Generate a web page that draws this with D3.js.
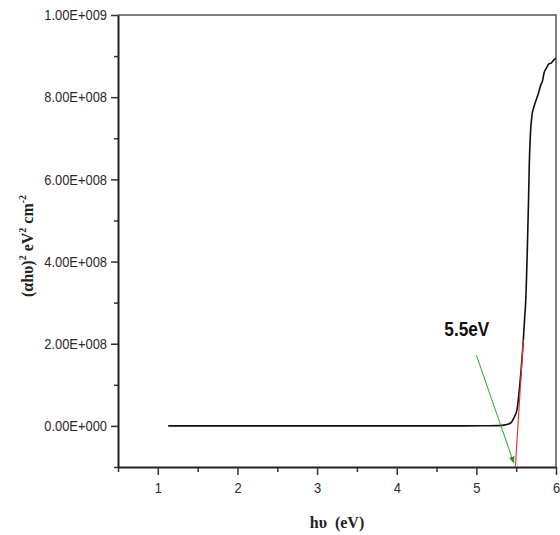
<!DOCTYPE html>
<html lang="en">
<head>
<meta charset="UTF-8">
<title>Tauc plot</title>
<script src="https://d3js.org/d3.v7.min.js"></script>
<style>
  body { margin: 0; background: #fff; }
  #viz svg { display: block; }
</style>
</head>
<body>
<div id="viz"></div>
<script>
// measured curve (hv in eV, (ahv)^2 in eV^2 cm^-2)
var hv   = [1.13, 2, 3, 4, 4.8, 5.1, 5.28, 5.36, 5.43, 5.47, 5.51, 5.535, 5.565, 5.59, 5.607, 5.62, 5.64, 5.655, 5.665, 5.68, 5.7, 5.72, 5.745, 5.775, 5.81, 5.83, 5.85, 5.88, 5.91, 5.94, 5.965, 5.99, 6.0];
var ahv2 = [0, 0, 0, 0, 0.001e8, 0.003e8, 0.008e8, 0.025e8, 0.07e8, 0.19e8, 0.39e8, 0.79e8, 1.44e8, 2.1e8, 2.65e8, 3.05e8, 4.3e8, 5.48e8, 6.4e8, 7.15e8, 7.58e8, 7.75e8, 7.9e8, 8.07e8, 8.3e8, 8.39e8, 8.59e8, 8.71e8, 8.81e8, 8.83e8, 8.89e8, 8.94e8, 8.95e8];

// linear fit (red) and pointer (green)
var fitX = [5.49, 5.59];
var fitY = [-1e8, 2.1e8];
var arrowX = [5.0, 5.47];
var arrowY = [1.72e8, -0.9e8];
var gapLabel = "5.5eV";
var gapPos = [4.88, 2.2e8];

var xTicks = [1, 2, 3, 4, 5, 6];
var xMinor = [0.5, 1.5, 2.5, 3.5, 4.5, 5.5];
var yTicks = [0, 2e8, 4e8, 6e8, 8e8, 1e9];
var yMinor = [-1e8, 1e8, 3e8, 5e8, 7e8, 9e8];

var w = 560, h = 535;
var mLeft = 118, mRight = 556, mTop = 15, mBottom = 467;

var svg = d3.select("#viz").append("svg")
    .attr("width", w)
    .attr("height", h);

var x = d3.scaleLinear().domain([0.5, 6]).range([mLeft, mRight]);
var y = d3.scaleLinear().domain([-1e8, 1e9]).range([mBottom, mTop]);

function sci(v) {
    if (v === 0) return "0.00E+000";
    var e = Math.floor(Math.log10(Math.abs(v)));
    var m = v / Math.pow(10, e);
    return m.toFixed(2) + "E+" + d3.format("03d")(e);
}

function squeeze(sel, k) {
    sel.each(function() {
        var len = this.getComputedTextLength();
        d3.select(this).attr("textLength", len * k).attr("lengthAdjust", "spacingAndGlyphs");
    });
}

// frame top/right
svg.append("path")
    .attr("d", "M" + mLeft + "," + mTop + "H" + mRight + "V" + mBottom)
    .attr("fill", "none")
    .attr("stroke", "#555")
    .attr("stroke-width", 1.5);

// minor ticks
svg.append("g")
    .attr("transform", "translate(" + mLeft + ",0)")
    .call(d3.axisLeft(y).tickValues(yMinor).tickSize(4).tickFormat(""))
    .call(function(g) { g.select(".domain").remove(); g.selectAll("line").attr("stroke", "#333").attr("stroke-width", 1.5); });
svg.append("g")
    .attr("transform", "translate(0," + mBottom + ")")
    .call(d3.axisBottom(x).tickValues(xMinor).tickSize(5).tickFormat(""))
    .call(function(g) { g.select(".domain").remove(); g.selectAll("line").attr("stroke", "#333").attr("stroke-width", 1.5); });

// major axes
var yAxis = svg.append("g")
    .attr("transform", "translate(" + mLeft + ",0)")
    .call(d3.axisLeft(y).tickValues(yTicks).tickSize(7).tickPadding(4).tickFormat(sci).tickSizeOuter(0));
var xAxis = svg.append("g")
    .attr("transform", "translate(0," + mBottom + ")")
    .call(d3.axisBottom(x).tickValues(xTicks).tickSize(8).tickPadding(7).tickFormat(d3.format("d")).tickSizeOuter(0));

[yAxis, xAxis].forEach(function(g) {
    g.select(".domain").attr("stroke", "#222").attr("stroke-width", 2);
    g.selectAll(".tick line").attr("stroke", "#333").attr("stroke-width", 1.5);
    g.selectAll(".tick text")
        .attr("fill", "#2a2a2a")
        .style("font-family", "'Liberation Sans', Arial, sans-serif")
        .style("font-size", "15px");
});
squeeze(yAxis.selectAll(".tick text"), 0.86);
squeeze(xAxis.selectAll(".tick text"), 0.86);

// data curve
var pts = hv.map(function(d, i) { return [d, ahv2[i]]; });
var line = d3.line()
    .x(function(d) { return x(d[0]); })
    .y(function(d) { return y(d[1]); })
    .curve(d3.curveMonotoneX);

svg.append("path")
    .datum(pts)
    .attr("d", line)
    .attr("fill", "none")
    .attr("stroke", "#111")
    .attr("stroke-width", 1.6);

// fitted line
svg.append("line")
    .attr("x1", x(fitX[0])).attr("y1", y(fitY[0]))
    .attr("x2", x(fitX[1])).attr("y2", y(fitY[1]))
    .attr("stroke", "#f03030")
    .attr("stroke-width", 1.1);

// arrow
svg.append("defs").append("marker")
    .attr("id", "arr")
    .attr("viewBox", "0 0 10 10")
    .attr("refX", 9).attr("refY", 5)
    .attr("markerWidth", 7).attr("markerHeight", 7)
    .attr("orient", "auto")
    .append("path")
    .attr("d", "M0,1L10,5L0,9Z")
    .attr("fill", "#1f9a1f");

svg.append("line")
    .attr("x1", x(arrowX[0])).attr("y1", y(arrowY[0]))
    .attr("x2", x(arrowX[1])).attr("y2", y(arrowY[1]))
    .attr("stroke", "#2aa52a")
    .attr("stroke-width", 1)
    .attr("marker-end", "url(#arr)");

svg.append("text")
    .attr("x", x(gapPos[0]))
    .attr("y", y(gapPos[1]))
    .attr("text-anchor", "middle")
    .attr("fill", "#111")
    .style("font-family", "'Liberation Sans', Arial, sans-serif")
    .style("font-weight", "bold")
    .style("font-size", "20px")
    .attr("textLength", 45)
    .attr("lengthAdjust", "spacingAndGlyphs")
    .text(gapLabel);

// axis titles
svg.append("text")
    .attr("x", (mLeft + mRight) / 2)
    .attr("y", 528)
    .attr("text-anchor", "middle")
    .attr("fill", "#222")
    .style("font-family", "'Liberation Serif', 'Times New Roman', serif")
    .style("font-weight", "bold")
    .style("font-size", "16px")
    .attr("xml:space", "preserve")
    .text("h\u03C5  (eV)");

var yt = svg.append("text")
    .attr("transform", "translate(33,246) rotate(-90)")
    .attr("text-anchor", "middle")
    .attr("fill", "#222")
    .style("font-family", "'Liberation Serif', 'Times New Roman', serif")
    .style("font-weight", "bold")
    .style("font-size", "16px");
yt.append("tspan").text("(\u03B1h\u03C5)");
yt.append("tspan").attr("dy", -7).style("font-size", "10px").text("2");
yt.append("tspan").attr("dy", 7).text(" eV");
yt.append("tspan").attr("dy", -7).style("font-size", "10px").text("2");
yt.append("tspan").attr("dy", 7).text(" cm");
yt.append("tspan").attr("dy", -7).style("font-size", "10px").text("-2");
</script>
</body>
</html>
